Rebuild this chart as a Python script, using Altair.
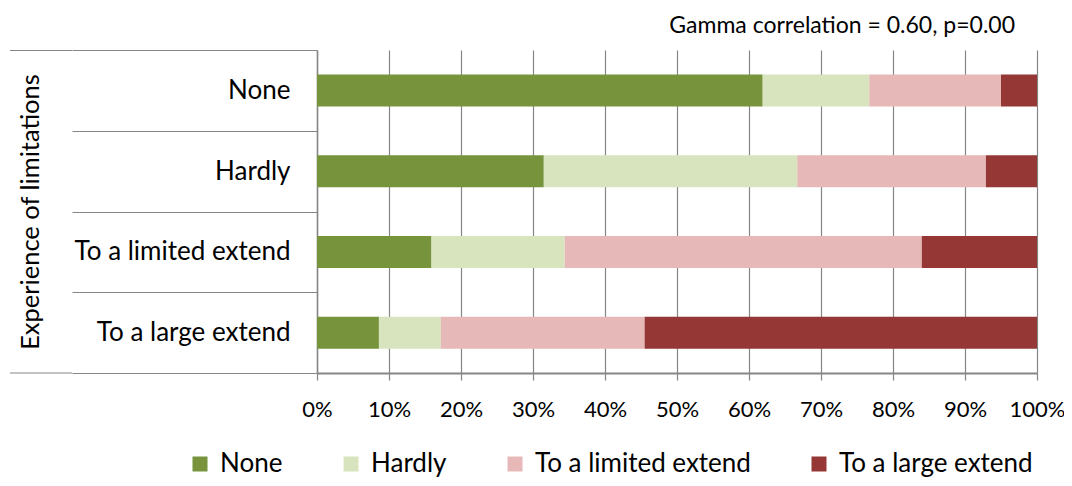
import altair as alt
import pandas as pd

rows = ["None", "Hardly", "To a limited extend", "To a large extend"]
series = ["None", "Hardly", "To a limited extend", "To a large extend"]
none_vals = [61.9, 31.5, 15.9, 8.6]
hardly_vals = [14.8, 35.2, 18.5, 8.6]
limited_vals = [18.3, 26.2, 49.6, 28.3]
large_vals = [5.0, 7.1, 16.0, 54.5]
colors = ["#77933C", "#D7E4BD", "#E6B9B8", "#953735"]
title_text = "Gamma correlation = 0.60, p=0.00"
y_title = "Experience of limitations"

records = []
for i, r in enumerate(rows):
    for j, (s, vals) in enumerate(zip(series, [none_vals, hardly_vals, limited_vals, large_vals])):
        records.append({"row": r, "series": s, "order": j, "value": vals[i] / 100.0})
df = pd.DataFrame(records)

FONT = "Lato"
GRAY = "#868686"
W, H = 720, 323

bars = alt.Chart(df).mark_bar(size=32).encode(
    x=alt.X("value:Q", stack="zero",
            scale=alt.Scale(domain=[0, 1], nice=False),
            axis=alt.Axis(format=".0%", values=[i / 10 for i in range(11)],
                          title=None, grid=True, gridColor=GRAY, gridWidth=1.2,
                          domainColor=GRAY, domainWidth=2, tickColor=GRAY,
                          tickWidth=1.2, tickSize=7, labelFontSize=22,
                          labelFont=FONT, labelColor="#000", labelPadding=19,
                          labelOverlap=False, labelFlush=False)),
    y=alt.Y("row:N", sort=rows,
            scale=alt.Scale(paddingInner=0, paddingOuter=0),
            axis=alt.Axis(title=y_title, tickBand="extent", tickSize=245,
                          tickColor=GRAY, tickWidth=1.2, domainColor=GRAY,
                          domainWidth=1.5, labelFontSize=26, labelFont=FONT,
                          labelColor="#000", labelPadding=-218, labelLimit=0,
                          titleFont=FONT, titleFontSize=25.5,
                          titleFontWeight="normal", titleColor="#000",
                          titleX=-279, titleY=H / 2, titleAngle=-90,
                          titleBaseline="alphabetic")),
    color=alt.Color("series:N", sort=series,
                    scale=alt.Scale(domain=series, range=colors),
                    legend=alt.Legend(title=None, orient="none",
                                      direction="horizontal",
                                      legendX=-130, legendY=401, padding=0,
                                      symbolType="square", symbolSize=225,
                                      symbolStrokeWidth=0, labelFont=FONT,
                                      labelFontSize=26, labelColor="#000",
                                      labelOffset=7, columnPadding=55,
                                      labelLimit=0)),
    order=alt.Order("order:Q"),
)

ext_df = pd.DataFrame({"pos": ["top", "bottom"]})
ext = alt.Chart(ext_df).mark_rule(color=GRAY, strokeWidth=1.2).encode(
    x=alt.value(-307), x2=alt.value(-245),
    y=alt.Y("pos:N", scale=alt.Scale(type="point", domain=["top", "bottom"],
                                     range=[0.5, H], padding=0), axis=None),
)

chart = alt.layer(bars, ext).resolve_scale(y="independent").properties(
    width=W, height=H,
    title=alt.TitleParams(title_text, anchor="end", frame="group",
                          font=FONT, fontSize=23, fontWeight="normal",
                          color="#000", dx=-22, offset=-1),
    autosize=alt.AutoSizeParams(type="none"),
    padding={"left": 309, "top": 42, "right": 27, "bottom": 105},
).configure_view(stroke=None)

chart.save("out.html", embed_options={"renderer": "svg", "actions": False})
